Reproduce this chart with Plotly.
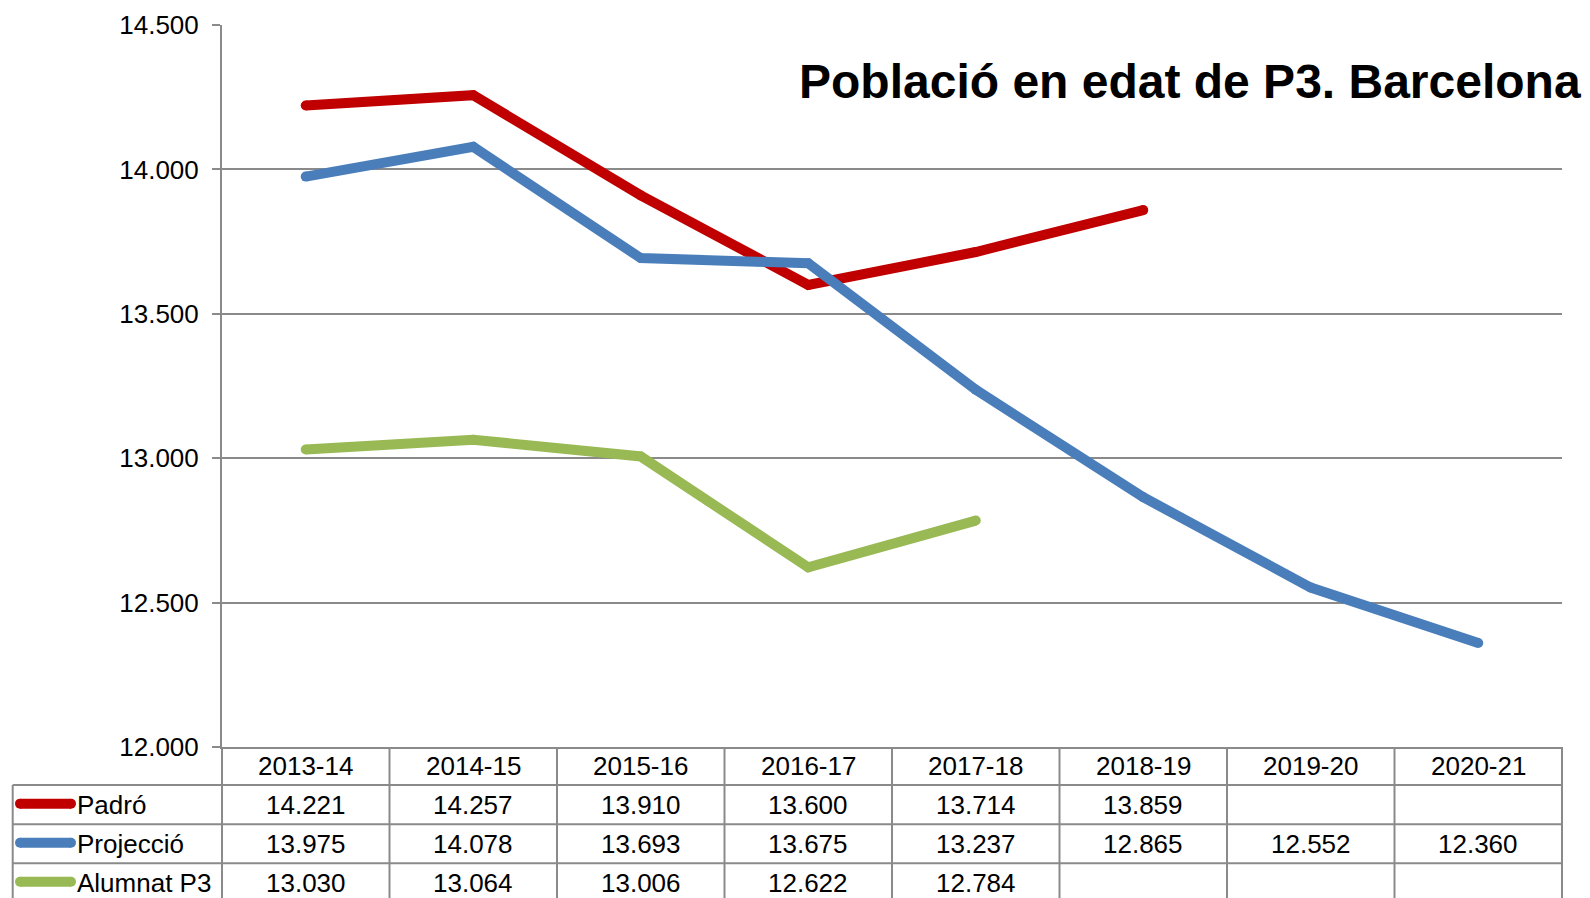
import plotly.graph_objects as go

# ---- data ----
categories = ["2013-14", "2014-15", "2015-16", "2016-17", "2017-18", "2018-19", "2019-20", "2020-21"]
series_names = ["Padró", "Projecció", "Alumnat P3"]
padro = [14221, 14257, 13910, 13600, 13714, 13859, None, None]
projeccio = [13975, 14078, 13693, 13675, 13237, 12865, 12552, 12360]
alumnat = [13030, 13064, 13006, 12622, 12784, None, None, None]
y_ticks = [12000, 12500, 13000, 13500, 14000, 14500]
title_text = "Població en edat de P3. Barcelona"

series_values = [padro, projeccio, alumnat]
colors = ["#C00000", "#4A7EBB", "#98B954"]

W, H = 1590, 898
OFF = 8  # page body margin
L, T = 222 - OFF, 25 - OFF
R = W - (1562 - OFF)
B = H - (747 - OFF)
PW = W - L - R
PH = H - T - B
FONT = "Liberation Sans, Arial, sans-serif"
GRID = "#8a8a8a"


def fx(px):
    # page pixel x -> paper
    return (px - OFF - L) / PW


def fy(py):
    # page pixel y -> paper
    return (H - B - (py - OFF)) / PH


fig = go.Figure()
for name, vals, col in zip(series_names, series_values, colors):
    fig.add_trace(go.Scatter(
        x=categories, y=vals, name=name, mode="lines+markers",
        line=dict(color=col, width=10),
        marker=dict(color=col, size=10, line=dict(width=0)),
        connectgaps=False, showlegend=False,
    ))

shapes = []
annotations = []

# table geometry (page pixels)
header_top = 747
row_lines = [785, 824.3, 863.3]
table_bottom = 930
table_left = 12.7
n = len(categories)

for yl in row_lines:
    shapes.append(dict(type="line", xref="paper", yref="paper",
                       x0=fx(table_left), x1=1, y0=fy(yl), y1=fy(yl),
                       line=dict(color=GRID, width=2)))
for k in range(n + 1):
    shapes.append(dict(type="line", xref="paper", yref="paper",
                       x0=k / n, x1=k / n, y0=0, y1=fy(table_bottom),
                       line=dict(color=GRID, width=2)))
shapes.append(dict(type="line", xref="paper", yref="paper",
                   x0=fx(table_left), x1=fx(table_left), y0=fy(row_lines[0]), y1=fy(table_bottom),
                   line=dict(color=GRID, width=2)))

header_center = (header_top + row_lines[0]) / 2
for c in categories:
    annotations.append(dict(x=c, xref="x", y=fy(header_center), yref="paper",
                            text=c, showarrow=False, xanchor="center", yanchor="middle",
                            font=dict(family=FONT, size=26, color="#000000")))

row_edges = row_lines + [row_lines[-1] + (row_lines[-1] - row_lines[-2])]
for i, (name, vals, col) in enumerate(zip(series_names, series_values, colors)):
    yc = (row_edges[i] + row_edges[i + 1]) / 2
    ky = yc - 1
    shapes.append(dict(type="line", xref="paper", yref="paper",
                       x0=fx(20), x1=fx(71), y0=fy(ky), y1=fy(ky),
                       line=dict(color=col, width=10)))
    for cx in (20, 71):
        shapes.append(dict(type="circle", xref="paper", yref="paper",
                           x0=fx(cx - 5), x1=fx(cx + 5), y0=fy(ky - 5), y1=fy(ky + 5),
                           fillcolor=col, line=dict(width=0)))
    annotations.append(dict(x=fx(75), xref="paper", y=fy(yc), yref="paper",
                            text=name, showarrow=False, xanchor="left", yanchor="middle",
                            font=dict(family=FONT, size=26, color="#000000")))
    for c, v in zip(categories, vals):
        if v is None:
            continue
        annotations.append(dict(x=c, xref="x", y=fy(yc), yref="paper",
                                text=f"{v:,}".replace(",", "."), showarrow=False,
                                xanchor="center", yanchor="middle",
                                font=dict(family=FONT, size=26, color="#000000")))

annotations.append(dict(x=fx(1583), xref="paper", y=fy(81.3), yref="paper",
                        text="<b>" + title_text + "</b>", showarrow=False,
                        xanchor="right", yanchor="middle",
                        font=dict(family=FONT, size=48, color="#000000")))

fig.update_layout(
    width=W, height=H,
    margin=dict(l=L, r=R, t=T, b=B, pad=0, autoexpand=False),
    paper_bgcolor="white", plot_bgcolor="white",
    separators=",.",
    showlegend=False,
    shapes=shapes,
    annotations=annotations,
    xaxis=dict(type="category", range=[-0.5, n - 0.5], showgrid=False,
               showticklabels=False, ticks="", showline=True, automargin=False,
               linecolor=GRID, linewidth=2, zeroline=False, fixedrange=True),
    yaxis=dict(range=[12000, 14500], tickvals=y_ticks, tickformat=",d",
               showgrid=True, gridcolor=GRID, gridwidth=2, automargin=False,
               showline=True, linecolor=GRID, linewidth=2,
               ticks="outside", ticklen=8, tickwidth=2, tickcolor=GRID,
               ticklabelstandoff=8, zeroline=False,
               tickfont=dict(family=FONT, size=26, color="#000000")),
)

fig.write_html("out.html")
